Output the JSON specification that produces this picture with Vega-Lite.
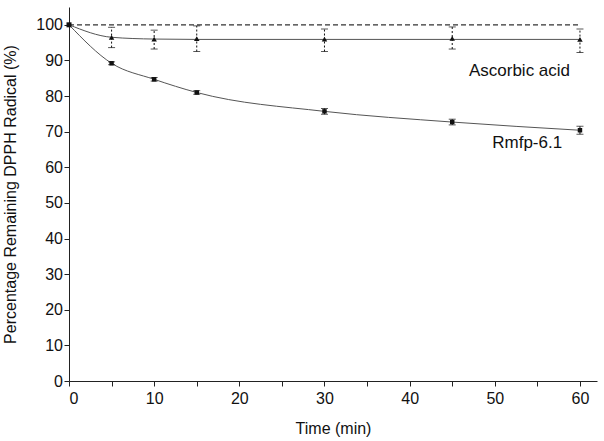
{
  "$schema": "https://vega.github.io/schema/vega-lite/v6.json",
  "width": 528,
  "height": 374,
  "autosize": {"type": "none"},
  "padding": {"left": 69, "top": 7, "right": 7, "bottom": 60},
  "background": "white",
  "config": {
    "font": "Liberation Sans",
    "view": {"stroke": null},
    "axis": {
      "domainColor": "#222",
      "domainWidth": 1,
      "tickColor": "#222",
      "tickWidth": 1,
      "ticks": true,
      "grid": false,
      "labelOverlap": false,
      "labelFontSize": 16,
      "labelColor": "#111",
      "titleFontSize": 16,
      "titleFontWeight": "normal",
      "titleColor": "#111",
      "labelFont": "Liberation Sans",
      "titleFont": "Liberation Sans"
    },
    "axisX": {
      "values": [0, 5, 10, 15, 20, 25, 30, 35, 40, 45, 50, 55, 60],
      "labelExpr": "datum.value % 10 === 0 ? datum.label : ''",
      "tickSize": 5,
      "labelPadding": 4,
      "titlePadding": 14
    },
    "axisY": {
      "values": [0, 5, 10, 15, 20, 25, 30, 35, 40, 45, 50, 55, 60, 65, 70, 75, 80, 85, 90, 95, 100],
      "labelExpr": "datum.value % 10 === 0 ? datum.label : ''",
      "tickSize": 5,
      "labelPadding": 1.5,
      "titlePadding": 17
    }
  },
  "datasets": {
    "pts": [
      {"series": "Ascorbic acid", "t": 5, "v": 96.5, "lo": 93.6, "hi": 99.3},
      {"series": "Ascorbic acid", "t": 10, "v": 96.0, "lo": 93.2, "hi": 98.5},
      {"series": "Ascorbic acid", "t": 15, "v": 96.1, "lo": 92.5, "hi": 99.7},
      {"series": "Ascorbic acid", "t": 30, "v": 96.0, "lo": 92.5, "hi": 98.8},
      {"series": "Ascorbic acid", "t": 45, "v": 96.2, "lo": 93.2, "hi": 99.4},
      {"series": "Ascorbic acid", "t": 60, "v": 95.9, "lo": 92.2, "hi": 98.8},
      {"series": "Rmfp-6.1", "t": 5, "v": 89.2, "lo": 88.8, "hi": 89.6},
      {"series": "Rmfp-6.1", "t": 10, "v": 84.7, "lo": 84.2, "hi": 85.2},
      {"series": "Rmfp-6.1", "t": 15, "v": 81.0, "lo": 80.5, "hi": 81.5},
      {"series": "Rmfp-6.1", "t": 30, "v": 75.7, "lo": 74.9, "hi": 76.5},
      {"series": "Rmfp-6.1", "t": 45, "v": 72.7, "lo": 71.9, "hi": 73.5},
      {"series": "Rmfp-6.1", "t": 60, "v": 70.4, "lo": 69.3, "hi": 71.5}
    ],
    "fit": [
      {"series": "Ascorbic acid", "t": 0, "v": 100},
      {"series": "Ascorbic acid", "t": 5, "v": 96.5},
      {"series": "Ascorbic acid", "t": 10, "v": 96.0},
      {"series": "Ascorbic acid", "t": 15, "v": 95.9},
      {"series": "Ascorbic acid", "t": 30, "v": 95.9},
      {"series": "Ascorbic acid", "t": 45, "v": 95.9},
      {"series": "Ascorbic acid", "t": 60, "v": 95.9},
      {"series": "Rmfp-6.1", "t": 0, "v": 100},
      {"series": "Rmfp-6.1", "t": 5, "v": 89.2},
      {"series": "Rmfp-6.1", "t": 10, "v": 84.7},
      {"series": "Rmfp-6.1", "t": 15, "v": 81.0},
      {"series": "Rmfp-6.1", "t": 30, "v": 75.7},
      {"series": "Rmfp-6.1", "t": 45, "v": 72.7},
      {"series": "Rmfp-6.1", "t": 60, "v": 70.4}
    ],
    "ctrl": [
      {"t": 0, "v": 100},
      {"t": 60, "v": 100}
    ],
    "labels": [
      {"t": 52.9, "v": 87.1, "text": "Ascorbic acid"},
      {"t": 53.8, "v": 66.8, "text": "Rmfp-6.1"}
    ]
  },
  "layer": [
    {
      "data": {"name": "ctrl"},
      "mark": {"type": "line", "color": "#333", "strokeWidth": 1.3, "strokeDash": [5, 3]},
      "encoding": {
        "x": {"field": "t", "type": "quantitative", "title": "Time (min)", "scale": {"domain": [0, 62], "nice": false, "zero": false}},
        "y": {"field": "v", "type": "quantitative", "title": "Percentage Remaining DPPH Radical (%)", "scale": {"domain": [0, 105], "nice": false}}
      }
    },
    {
      "data": {"name": "fit"},
      "mark": {"type": "line", "color": "#555", "strokeWidth": 1, "interpolate": "monotone"},
      "encoding": {
        "x": {"field": "t", "type": "quantitative", "title": "Time (min)"},
        "y": {"field": "v", "type": "quantitative", "title": "Percentage Remaining DPPH Radical (%)"},
        "detail": {"field": "series"}
      }
    },
    {
      "data": {"name": "pts"},
      "transform": [{"filter": "datum.series === 'Ascorbic acid'"}],
      "mark": {"type": "rule", "color": "#111", "strokeWidth": 1, "strokeDash": [2, 2]},
      "encoding": {
        "x": {"field": "t", "type": "quantitative", "title": "Time (min)"},
        "y": {"field": "lo", "type": "quantitative", "title": "Percentage Remaining DPPH Radical (%)"},
        "y2": {"field": "hi"}
      }
    },
    {
      "data": {"name": "pts"},
      "transform": [{"filter": "datum.series === 'Rmfp-6.1'"}],
      "mark": {"type": "rule", "color": "#111", "strokeWidth": 1},
      "encoding": {
        "x": {"field": "t", "type": "quantitative", "title": "Time (min)"},
        "y": {"field": "lo", "type": "quantitative", "title": "Percentage Remaining DPPH Radical (%)"},
        "y2": {"field": "hi"}
      }
    },
    {
      "data": {"name": "pts"},
      "mark": {"type": "tick", "orient": "horizontal", "color": "#111", "size": 7, "thickness": 1},
      "encoding": {
        "x": {"field": "t", "type": "quantitative", "title": "Time (min)"},
        "y": {"field": "lo", "type": "quantitative", "title": "Percentage Remaining DPPH Radical (%)"}
      }
    },
    {
      "data": {"name": "pts"},
      "mark": {"type": "tick", "orient": "horizontal", "color": "#111", "size": 7, "thickness": 1},
      "encoding": {
        "x": {"field": "t", "type": "quantitative", "title": "Time (min)"},
        "y": {"field": "hi", "type": "quantitative", "title": "Percentage Remaining DPPH Radical (%)"}
      }
    },
    {
      "data": {"name": "pts"},
      "transform": [{"filter": "datum.series === 'Ascorbic acid'"}],
      "mark": {"type": "point", "shape": "triangle-up", "filled": true, "color": "#111", "size": 30, "opacity": 1},
      "encoding": {
        "x": {"field": "t", "type": "quantitative", "title": "Time (min)"},
        "y": {"field": "v", "type": "quantitative", "title": "Percentage Remaining DPPH Radical (%)"}
      }
    },
    {
      "data": {"name": "pts"},
      "transform": [{"filter": "datum.series === 'Rmfp-6.1'"}],
      "mark": {"type": "point", "shape": "square", "filled": true, "color": "#111", "size": 20, "opacity": 1},
      "encoding": {
        "x": {"field": "t", "type": "quantitative", "title": "Time (min)"},
        "y": {"field": "v", "type": "quantitative", "title": "Percentage Remaining DPPH Radical (%)"}
      }
    },
    {
      "data": {"name": "ctrl"},
      "transform": [{"filter": "datum.t === 0"}],
      "mark": {"type": "point", "shape": "square", "filled": true, "color": "#111", "size": 25, "opacity": 1},
      "encoding": {
        "x": {"field": "t", "type": "quantitative", "title": "Time (min)"},
        "y": {"field": "v", "type": "quantitative", "title": "Percentage Remaining DPPH Radical (%)"}
      }
    },
    {
      "data": {"name": "labels"},
      "mark": {"type": "text", "font": "Liberation Sans", "fontSize": 17, "color": "#111", "align": "center", "baseline": "middle"},
      "encoding": {
        "x": {"field": "t", "type": "quantitative", "title": "Time (min)"},
        "y": {"field": "v", "type": "quantitative", "title": "Percentage Remaining DPPH Radical (%)"},
        "text": {"field": "text"}
      }
    }
  ]
}
